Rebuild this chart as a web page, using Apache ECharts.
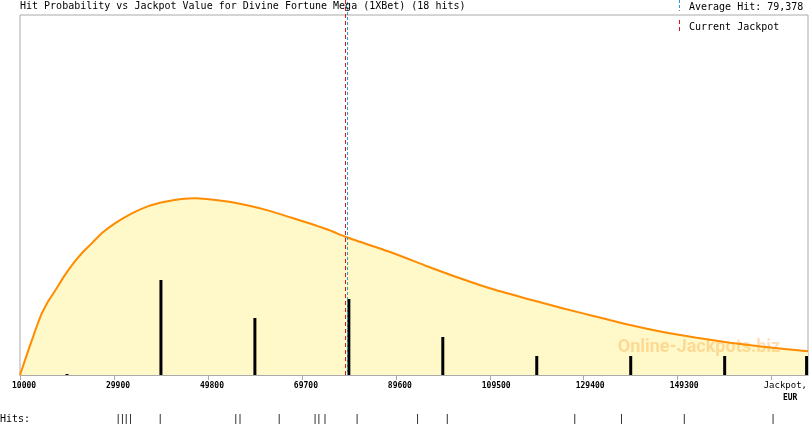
<!DOCTYPE html>
<html>
<head>
<meta charset="utf-8">
<title>Hit Probability vs Jackpot Value</title>
<style>
  html, body { margin: 0; padding: 0; background: #fff; }
  #chart { width: 810px; height: 425px; }
</style>
<script src="https://cdn.jsdelivr.net/npm/echarts@6/dist/echarts.min.js"></script>
</head>
<body>
<div id="chart"></div>
<script>
var titleText = 'Hit Probability vs Jackpot Value for Divine Fortune Mega (1XBet) (18 hits)';
var xMin = 10000, xMax = 176900;
var yMax = 19.74;
var tickValues = [10000, 29900, 49800, 69700, 89600, 109500, 129400, 149300, 169200];

// fitted probability curve
var curveX = [10000, 11800, 14200, 16000, 17800, 19500, 21300, 23100, 25200, 27300, 30100, 33700,
  37200, 40700, 44200, 47100, 49500, 55200, 62300, 67900, 75000, 79200, 89100, 96100, 103200,
  110200, 118000, 125100, 132100, 139200, 146200, 153300, 160400, 167400, 176900];
var curveY = [0, 1.32, 3.0, 3.89, 4.58, 5.26, 5.88, 6.41, 6.93, 7.46, 7.98, 8.51,
  8.89, 9.12, 9.26, 9.30, 9.26, 9.08, 8.68, 8.25, 7.67, 7.25, 6.41, 5.74, 5.09,
  4.51, 3.97, 3.50, 3.07, 2.63, 2.26, 1.96, 1.70, 1.49, 1.25];

// hits per bin
var binCenters = [19950, 39850, 59750, 79650, 99550, 119450, 139350, 159250, 176600];
var binCounts = [0, 5, 3, 4, 2, 1, 1, 1, 1];

// individual hits
var hits = [30800, 31700, 32500, 33400, 39700, 55700, 56600, 64900, 72500, 73300, 74600,
  81400, 94200, 100500, 127500, 137400, 150700, 169500];

var avgHit = 79378;
var currentJackpot = 78950;

var mono = 'DejaVu Sans Mono';
var red = '#e01010', blue = '#2a9ad6', frame = '#aaaaaa';

var chart = echarts.init(document.getElementById('chart'));

function tickLabel(value, index) {
  if (value === tickValues[tickValues.length - 1]) return '{j|Jackpot,}\n{e|    EUR}';
  if (index % 2 === 1) return '{a| }\n{a|' + value + '}';
  return '{a|' + value + '}';
}

// full-height dashed marker line at a jackpot value
function vline(value, color, dash) {
  return {
    type: 'line', xAxisIndex: 0, yAxisIndex: 0, z: 4, silent: true,
    data: [[value, 0], [value, yMax]],
    symbol: 'none', showSymbol: false,
    lineStyle: { color: color, width: 1, type: dash }
  };
}

chart.setOption({
  animation: false,
  title: {
    text: titleText, left: 20, top: 1, padding: 0,
    textStyle: { fontFamily: mono, fontSize: 10, fontWeight: 'normal', color: '#000' }
  },
  grid: [
    { left: 20, right: 2, top: 0, bottom: 50 },
    { left: 20, right: 2, top: 15, bottom: 50, show: true, borderColor: frame, borderWidth: 1, backgroundColor: 'transparent' },
    { left: 20, right: 2, top: 413, height: 12 }
  ],
  xAxis: [
    {
      gridIndex: 0, type: 'value', min: xMin, max: xMax,
      axisLine: { lineStyle: { color: frame, width: 1 } },
      axisTick: { show: true, length: 5, customValues: tickValues, lineStyle: { color: frame } },
      splitLine: { show: false },
      axisLabel: {
        margin: 5, customValues: tickValues, formatter: tickLabel,
        rich: {
          a: { fontFamily: mono, fontSize: 8, fontWeight: 'bold', color: '#000', width: 16, align: 'left', lineHeight: 12 },
          j: { fontFamily: mono, fontSize: 9, color: '#000', width: 16, align: 'left', lineHeight: 12 },
          e: { fontFamily: mono, fontSize: 8, fontWeight: 'bold', color: '#000', width: 16, align: 'left', lineHeight: 12 }
        }
      }
    },
    { gridIndex: 1, type: 'value', min: xMin, max: xMax, show: false },
    { gridIndex: 2, type: 'value', min: xMin, max: xMax, show: false }
  ],
  yAxis: [
    { gridIndex: 0, type: 'value', min: 0, max: yMax, show: false, splitLine: { show: false } },
    { gridIndex: 1, type: 'value', min: 0, max: 1, show: false },
    { gridIndex: 2, type: 'value', min: 0, max: 1, show: false }
  ],
  series: [
    {
      type: 'line', xAxisIndex: 0, yAxisIndex: 0, z: 1,
      data: curveX.map(function (x, i) { return [x, curveY[i]]; }),
      smooth: 0.2, showSymbol: false, symbol: 'none',
      lineStyle: { color: '#ff8c00', width: 2 },
      areaStyle: { color: '#fff8c8', opacity: 1 }
    },
    {
      type: 'bar', xAxisIndex: 0, yAxisIndex: 0, z: 3,
      data: binCenters.map(function (x, i) { return [x, binCounts[i]]; }),
      barWidth: 3, barMinHeight: 1,
      itemStyle: { color: '#000' }
    },
    vline(currentJackpot, red, [4, 3]),
    vline(avgHit, blue, [3, 2]),
    {
      type: 'scatter', xAxisIndex: 2, yAxisIndex: 2,
      data: hits.map(function (v) { return [v, 0.5]; }),
      symbol: 'rect', symbolSize: [1, 10],
      itemStyle: { color: '#000' }
    }
  ],
  graphic: [
    { type: 'line', shape: { x1: 679.5, y1: 0, x2: 679.5, y2: 11 }, style: { stroke: blue, lineWidth: 1, lineDash: [3, 2] } },
    { type: 'line', shape: { x1: 679.5, y1: 20, x2: 679.5, y2: 34 }, style: { stroke: red, lineWidth: 1, lineDash: [4, 3] } },
    { type: 'text', x: 689, y: 7, style: { text: 'Average Hit: ' + avgHit.toLocaleString('en-US'), font: '10px ' + mono, fill: '#000', verticalAlign: 'middle' } },
    { type: 'text', x: 689, y: 27, style: { text: 'Current Jackpot', font: '10px ' + mono, fill: '#000', verticalAlign: 'middle' } },
    { type: 'text', x: 0, y: 419, style: { text: 'Hits:', font: '10px ' + mono, fill: '#000', verticalAlign: 'middle' } },
    { type: 'text', x: 699, y: 347, z: 10, style: { text: 'Online-Jackpots.biz', font: 'bold 18px Roboto', fill: 'rgba(250,150,30,0.3)', align: 'center', verticalAlign: 'middle' } }
  ]
});

window.addEventListener('resize', function () { chart.resize(); });
</script>
</body>
</html>
